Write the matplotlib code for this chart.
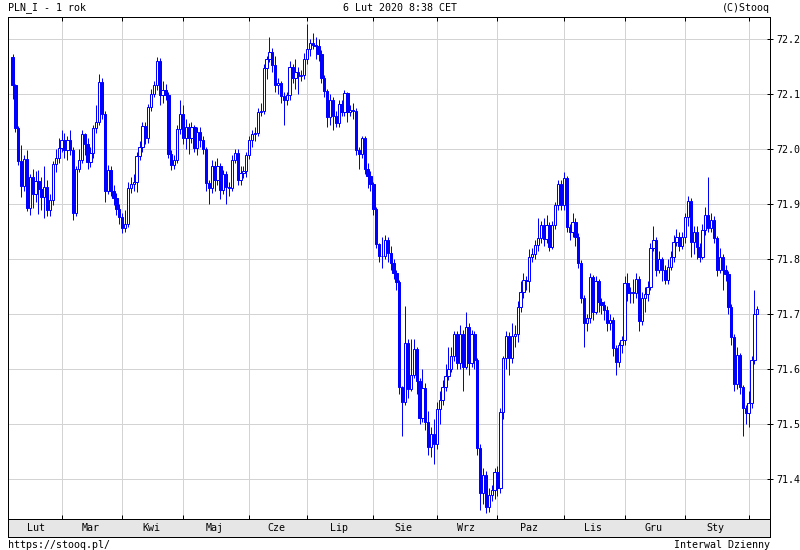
import matplotlib
matplotlib.use("Agg")
import matplotlib.pyplot as plt
import numpy as np
import pandas as pd

# ---------------- data ----------------
start_date = "2019-02-06"
end_date = "2020-02-06"
holidays = ["2019-04-22", "2019-12-25", "2020-01-01"]

closes = [72.116, 72.039, 71.979, 71.934, 71.983, 71.894, 71.949, 71.918, 71.942, 71.928,
          71.914, 71.932, 71.890, 71.908, 71.973, 71.984, 72.003, 72.017, 71.999, 72.017,
          71.999, 71.884, 71.964, 71.981, 72.027, 72.009, 71.976, 71.993, 72.038, 72.050,
          72.122, 72.064, 71.925, 71.962, 71.925, 71.911, 71.892, 71.877, 71.856, 71.865,
          71.929, 71.937, 71.940, 71.987, 72.004, 72.042, 72.020, 72.076, 72.100, 72.116,
          72.161, 72.098, 72.108, 72.099, 71.991, 71.972, 71.980, 72.036, 72.065, 72.020,
          72.040, 72.020, 72.040, 72.003, 72.032, 72.017, 72.000, 71.938, 71.929, 71.970,
          71.944, 71.970, 71.926, 71.955, 71.932, 71.930, 71.981, 71.993, 71.944, 71.956,
          71.960, 71.990, 72.017, 72.027, 72.030, 72.068, 72.070, 72.147, 72.165, 72.177,
          72.153, 72.116, 72.120, 72.097, 72.089, 72.098, 72.149, 72.130, 72.140, 72.133,
          72.135, 72.164, 72.182, 72.193, 72.190, 72.188, 72.173, 72.130, 72.106, 72.058,
          72.090, 72.061, 72.047, 72.082, 72.067, 72.102, 72.067, 72.071, 72.070, 71.999,
          71.991, 72.021, 71.965, 71.951, 71.936, 71.891, 71.827, 71.806, 71.806, 71.835,
          71.812, 71.793, 71.775, 71.758, 71.567, 71.541, 71.647, 71.565, 71.590, 71.636,
          71.578, 71.511, 71.566, 71.505, 71.459, 71.483, 71.465, 71.527, 71.544, 71.568,
          71.587, 71.600, 71.624, 71.665, 71.611, 71.665, 71.605, 71.677, 71.612, 71.665,
          71.617, 71.456, 71.375, 71.408, 71.350, 71.371, 71.380, 71.414, 71.384, 71.523,
          71.620, 71.660, 71.620, 71.660, 71.665, 71.714, 71.741, 71.762, 71.760, 71.805,
          71.810, 71.826, 71.838, 71.862, 71.836, 71.862, 71.823, 71.862, 71.899, 71.937,
          71.899, 71.947, 71.859, 71.850, 71.868, 71.841, 71.793, 71.729, 71.684, 71.693,
          71.767, 71.705, 71.760, 71.723, 71.717, 71.708, 71.684, 71.690, 71.638, 71.614,
          71.644, 71.653, 71.756, 71.738, 71.740, 71.738, 71.765, 71.687, 71.729, 71.736,
          71.750, 71.820, 71.835, 71.781, 71.801, 71.780, 71.762, 71.786, 71.804, 71.832,
          71.840, 71.824, 71.840, 71.876, 71.906, 71.832, 71.850, 71.822, 71.804, 71.854,
          71.880, 71.856, 71.871, 71.838, 71.781, 71.805, 71.780, 71.774, 71.713, 71.659,
          71.574, 71.626, 71.568, 71.530, 71.520, 71.538, 71.616, 71.700, 71.710]

opens = [72.168, 72.116, 72.039, 71.979, 71.934, 71.983, 71.894, 71.949, 71.918, 71.942,
         71.928, 71.914, 71.932, 71.890, 71.908, 71.973, 71.984, 72.003, 72.017, 71.999,
         72.017, 71.999, 71.884, 71.964, 71.981, 72.027, 72.009, 71.976, 71.993, 72.038,
         72.050, 72.122, 72.064, 71.925, 71.962, 71.925, 71.911, 71.892, 71.877, 71.856,
         71.865, 71.929, 71.937, 71.940, 71.987, 72.004, 72.042, 72.020, 72.076, 72.100,
         72.116, 72.161, 72.098, 72.108, 72.099, 71.991, 71.972, 71.980, 72.036, 72.065,
         72.020, 72.040, 72.020, 72.040, 72.003, 72.032, 72.017, 72.000, 71.938, 71.929,
         71.970, 71.944, 71.970, 71.926, 71.955, 71.932, 71.930, 71.981, 71.993, 71.944,
         71.956, 71.960, 71.990, 72.017, 72.027, 72.030, 72.068, 72.070, 72.147, 72.165,
         72.177, 72.153, 72.116, 72.120, 72.097, 72.089, 72.098, 72.149, 72.130, 72.140,
         72.133, 72.135, 72.164, 72.182, 72.193, 72.190, 72.188, 72.173, 72.130, 72.106,
         72.058, 72.090, 72.061, 72.047, 72.082, 72.067, 72.102, 72.067, 72.071, 72.070,
         71.999, 71.991, 72.021, 71.965, 71.951, 71.936, 71.891, 71.827, 71.806, 71.806,
         71.835, 71.812, 71.793, 71.775, 71.758, 71.567, 71.541, 71.647, 71.565, 71.590,
         71.636, 71.578, 71.511, 71.566, 71.505, 71.459, 71.483, 71.465, 71.527, 71.544,
         71.568, 71.587, 71.600, 71.624, 71.665, 71.611, 71.665, 71.605, 71.677, 71.612,
         71.665, 71.617, 71.456, 71.375, 71.408, 71.350, 71.371, 71.380, 71.414, 71.384,
         71.523, 71.620, 71.660, 71.620, 71.660, 71.665, 71.714, 71.741, 71.762, 71.760,
         71.805, 71.810, 71.826, 71.838, 71.862, 71.836, 71.862, 71.823, 71.862, 71.899,
         71.937, 71.899, 71.947, 71.859, 71.850, 71.868, 71.841, 71.793, 71.729, 71.684,
         71.693, 71.767, 71.705, 71.760, 71.723, 71.717, 71.708, 71.684, 71.690, 71.638,
         71.614, 71.644, 71.653, 71.756, 71.738, 71.740, 71.738, 71.765, 71.687, 71.729,
         71.736, 71.750, 71.820, 71.835, 71.781, 71.801, 71.780, 71.762, 71.786, 71.804,
         71.832, 71.840, 71.824, 71.840, 71.876, 71.906, 71.832, 71.850, 71.822, 71.804,
         71.854, 71.880, 71.856, 71.871, 71.838, 71.781, 71.805, 71.780, 71.774, 71.713,
         71.659, 71.574, 71.626, 71.568, 71.530, 71.520, 71.538, 71.616, 71.700]

highs = [72.173, 72.118, 72.042, 72.008, 71.990, 71.998, 71.955, 71.965, 71.960, 71.963,
         71.950, 71.970, 71.945, 71.918, 71.978, 72.000, 72.020, 72.035, 72.030, 72.025,
         72.035, 72.005, 71.970, 72.000, 72.035, 72.030, 72.020, 72.005, 72.045, 72.080,
         72.137, 72.130, 72.070, 71.972, 71.970, 71.935, 71.920, 71.900, 71.885, 71.890,
         71.940, 71.950, 71.955, 71.995, 72.015, 72.050, 72.050, 72.082, 72.110, 72.125,
         72.168, 72.166, 72.125, 72.118, 72.105, 71.998, 71.990, 72.045, 72.090, 72.080,
         72.055, 72.048, 72.050, 72.045, 72.040, 72.040, 72.025, 72.005, 71.945, 71.980,
         71.978, 71.985, 71.975, 71.962, 71.960, 71.940, 71.990, 72.000, 72.000, 71.970,
         71.970, 71.995, 72.025, 72.035, 72.040, 72.075, 72.085, 72.155, 72.170, 72.205,
         72.185, 72.170, 72.130, 72.125, 72.105, 72.105, 72.160, 72.155, 72.165, 72.150,
         72.145, 72.175, 72.227, 72.200, 72.212, 72.205, 72.200, 72.180, 72.135, 72.110,
         72.100, 72.095, 72.070, 72.090, 72.090, 72.108, 72.105, 72.080, 72.085, 72.075,
         72.005, 72.025, 72.025, 71.975, 71.960, 71.940, 71.895, 71.830, 71.840, 71.845,
         71.840, 71.825, 71.800, 71.780, 71.762, 71.570, 71.715, 71.655, 71.655, 71.655,
         71.640, 71.585, 71.600, 71.575, 71.525, 71.495, 71.510, 71.540, 71.560, 71.580,
         71.610, 71.640, 71.640, 71.670, 71.670, 71.680, 71.672, 71.705, 71.685, 71.672,
         71.670, 71.620, 71.465, 71.420, 71.415, 71.385, 71.390, 71.420, 71.425, 71.530,
         71.625, 71.670, 71.668, 71.685, 71.680, 71.725, 71.760, 71.775, 71.770, 71.818,
         71.820, 71.835, 71.875, 71.870, 71.875, 71.880, 71.868, 71.870, 71.905, 71.945,
         71.945, 71.958, 71.952, 71.865, 71.885, 71.875, 71.848, 71.798, 71.735, 71.700,
         71.775, 71.772, 71.770, 71.765, 71.730, 71.725, 71.715, 71.700, 71.695, 71.645,
         71.650, 71.660, 71.770, 71.775, 71.750, 71.765, 71.775, 71.770, 71.740, 71.750,
         71.760, 71.830, 71.860, 71.840, 71.815, 71.805, 71.790, 71.800, 71.815, 71.845,
         71.855, 71.850, 71.850, 71.885, 71.915, 71.912, 71.860, 71.860, 71.830, 71.865,
         71.895, 71.950, 71.885, 71.878, 71.842, 71.820, 71.810, 71.790, 71.778, 71.718,
         71.665, 71.640, 71.630, 71.572, 71.535, 71.560, 71.625, 71.745, 71.715]

lows = [72.092, 72.032, 71.972, 71.914, 71.925, 71.887, 71.880, 71.893, 71.905, 71.882,
        71.890, 71.875, 71.878, 71.878, 71.898, 71.958, 71.975, 71.995, 71.985, 71.980,
        71.990, 71.872, 71.878, 71.958, 71.975, 71.990, 71.965, 71.968, 71.985, 72.030,
        72.045, 72.055, 71.905, 71.918, 71.915, 71.898, 71.880, 71.865, 71.848, 71.850,
        71.858, 71.920, 71.925, 71.922, 71.980, 71.995, 72.010, 72.012, 72.070, 72.095,
        72.108, 72.080, 72.085, 72.090, 71.985, 71.962, 71.965, 71.975, 72.028, 72.010,
        72.000, 71.992, 72.012, 71.995, 71.990, 72.005, 71.992, 71.925, 71.900, 71.920,
        71.925, 71.935, 71.910, 71.918, 71.900, 71.915, 71.925, 71.975, 71.935, 71.935,
        71.948, 71.950, 71.982, 72.005, 72.015, 72.025, 72.060, 72.065, 72.128, 72.158,
        72.140, 72.105, 72.100, 72.085, 72.045, 72.080, 72.090, 72.120, 72.110, 72.100,
        72.125, 72.128, 72.155, 72.170, 72.182, 72.165, 72.160, 72.120, 72.095, 72.040,
        72.045, 72.035, 72.040, 72.040, 72.060, 72.060, 72.050, 72.060, 72.055, 71.990,
        71.965, 71.985, 71.955, 71.930, 71.925, 71.880, 71.820, 71.795, 71.785, 71.800,
        71.795, 71.780, 71.765, 71.745, 71.555, 71.478, 71.535, 71.548, 71.560, 71.585,
        71.555, 71.500, 71.505, 71.490, 71.445, 71.440, 71.428, 71.455, 71.500, 71.535,
        71.560, 71.580, 71.595, 71.615, 71.600, 71.600, 71.560, 71.600, 71.590, 71.605,
        71.600, 71.445, 71.345, 71.355, 71.338, 71.340, 71.360, 71.365, 71.370, 71.375,
        71.510, 71.600, 71.590, 71.612, 71.640, 71.650, 71.705, 71.730, 71.745, 71.740,
        71.795, 71.800, 71.815, 71.830, 71.825, 71.830, 71.815, 71.818, 71.855, 71.890,
        71.890, 71.890, 71.850, 71.835, 71.840, 71.825, 71.785, 71.720, 71.640, 71.670,
        71.685, 71.690, 71.700, 71.705, 71.700, 71.690, 71.670, 71.672, 71.625, 71.590,
        71.605, 71.630, 71.645, 71.725, 71.720, 71.720, 71.730, 71.670, 71.680, 71.705,
        71.725, 71.745, 71.815, 71.770, 71.775, 71.760, 71.755, 71.755, 71.780, 71.795,
        71.825, 71.815, 71.818, 71.830, 71.860, 71.805, 71.810, 71.800, 71.795, 71.800,
        71.845, 71.850, 71.850, 71.830, 71.770, 71.775, 71.745, 71.760, 71.700, 71.645,
        71.560, 71.565, 71.555, 71.478, 71.500, 71.495, 71.530, 71.610, 71.700]

month_names = ["Lut", "Mar", "Kwi", "Maj", "Cze", "Lip", "Sie", "Wrz", "Paz", "Lis", "Gru", "Sty"]
y_ticks = [71.4, 71.5, 71.6, 71.7, 71.8, 71.9, 72.0, 72.1, 72.2]

title_left = "PLN_I - 1 rok"
title_mid = "6 Lut 2020 8:38 CET"
title_right = "(C)Stooq"
foot_left = "https://stooq.pl/"
foot_right = "Interwal Dzienny"

# ---------------- build ----------------
dates = pd.bdate_range(start_date, end_date)
dates = dates[~dates.isin(pd.to_datetime(holidays))]
n = len(closes)
dates = dates[:n]
idx = np.arange(n)

o = np.array(opens)
c = np.array(closes)
h = np.array(highs)
l = np.array(lows)

periods = dates.to_period("M")
month_starts = [0] + [i for i in range(1, n) if periods[i] != periods[i - 1]]

W, H = 800, 550
FONT = "DejaVu Sans Mono"
FS = 7.2
BLUE = "#0000ff"
GRID = "#d3d3d3"
LW = 0.72

fig = plt.figure(figsize=(8, 5.5), dpi=100)
fig.patch.set_facecolor("white")

x_left, x_right = 8, 770
y_top, y_plot_bot, y_band_bot = 17, 519, 537

ax = fig.add_axes([x_left / W, 1 - y_plot_bot / H, (x_right - x_left) / W, (y_plot_bot - y_top) / H])
band = fig.add_axes([x_left / W, 1 - y_band_bot / H, (x_right - x_left) / W, (y_band_bot - y_plot_bot) / H])

xlim = (-1.56, 262.4)
ax.set_xlim(*xlim)
ax.set_ylim(71.3278, 72.2405)
band.set_xlim(*xlim)
band.set_ylim(0, 1)

# grid
for v in y_ticks:
    ax.axhline(v, color=GRID, lw=LW, zorder=0)
for ms in month_starts[1:]:
    ax.axvline(ms, color=GRID, lw=LW, zorder=0)

# wicks
ax.vlines(idx, l, h, color=BLUE, lw=LW, zorder=2)
# bodies
up = c >= o
bottoms = np.minimum(o, c)
heights = np.abs(c - o)
heights = np.where(heights < 0.0008, 0.0008, heights)
faces = np.where(up, "white", BLUE)
ax.bar(idx, heights, bottom=bottoms, width=0.8, color=list(faces), edgecolor=BLUE,
       linewidth=LW, zorder=3)

# axes styling
for sp in ax.spines.values():
    sp.set_color("black")
    sp.set_linewidth(LW)
ax.set_xticks(month_starts[1:])
ax.set_xticklabels([])
ax.tick_params(axis="x", direction="in", length=3, width=LW, top=True, bottom=True, color="black")
ax.yaxis.tick_right()
ax.set_yticks(y_ticks)
ax.set_yticklabels([f"{v:.1f}" for v in y_ticks], fontfamily=FONT, fontsize=FS)
ax.tick_params(axis="y", direction="inout", length=5, width=LW, pad=2, colors="black",
               left=False, right=True)

# band with month names
band.set_facecolor("#e6e6e6")
for sp in band.spines.values():
    sp.set_color("black")
    sp.set_linewidth(LW)
band.set_xticks([])
band.set_yticks([])
for k, name in enumerate(month_names):
    s = month_starts[k]
    e = month_starts[k + 1]
    band.text((s + e) / 2 - 0.5, 0.5, name, ha="center", va="center",
              fontfamily=FONT, fontsize=FS, color="black")

# header / footer
fig.text(x_left / W, 1 - 8 / H, title_left, ha="left", va="center", fontfamily=FONT, fontsize=FS)
fig.text(400 / W, 1 - 8 / H, title_mid, ha="center", va="center", fontfamily=FONT, fontsize=FS)
fig.text(x_right / W, 1 - 8 / H, title_right, ha="right", va="center", fontfamily=FONT, fontsize=FS)
fig.text(x_left / W, 1 - 545 / H, foot_left, ha="left", va="center", fontfamily=FONT, fontsize=FS)
fig.text(x_right / W, 1 - 545 / H, foot_right, ha="right", va="center", fontfamily=FONT, fontsize=FS)

fig.savefig("out.png", dpi=100)
